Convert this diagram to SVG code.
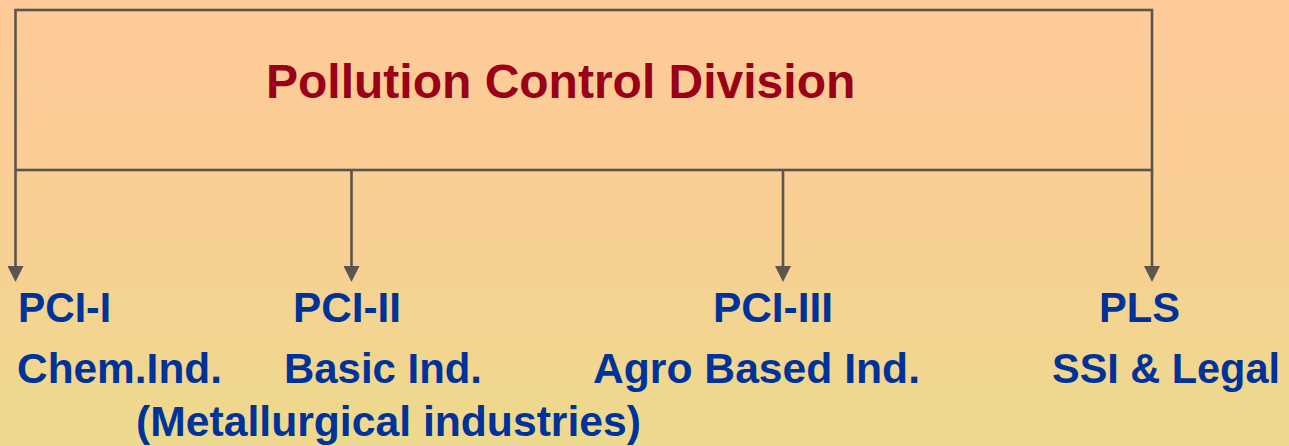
<svg xmlns="http://www.w3.org/2000/svg" width="1289" height="446" viewBox="0 0 1289 446">
  <defs>
    <linearGradient id="bg" x1="0" y1="0" x2="0" y2="1">
      <stop offset="0" stop-color="#FFCA99"/>
      <stop offset="0.5" stop-color="#F8CF93"/>
      <stop offset="1" stop-color="#EDDA8D"/>
    </linearGradient>
    <marker id="arrow" viewBox="0 0 16 16" refX="0" refY="8" markerWidth="16" markerHeight="16" markerUnits="userSpaceOnUse" orient="auto">
      <path d="M0,0 L16,8 L0,16 Z" fill="#5C554D"/>
    </marker>
    <style>
      .box { fill: none; stroke: #5C554D; stroke-width: 2.6; }
      .link { fill: none; stroke: #5C554D; stroke-width: 2.6; marker-end: url(#arrow); }
      .title { font-family: "Liberation Sans", Arial, sans-serif; font-weight: bold; font-size: 48px; fill: #9A0017; }
      .label { font-family: "Liberation Sans", Arial, sans-serif; font-weight: bold; font-size: 43px; fill: #003399; }
    </style>
  </defs>

  <rect width="1289" height="446" fill="url(#bg)"/>

  <!-- Division box -->
  <g id="division">
    <rect class="box" x="15.5" y="10" width="1136.5" height="160"/>
    <text class="title" x="266" y="98">Pollution Control Division</text>
  </g>

  <!-- Branches down to each cell -->
  <g id="connectors">
    <line class="link" x1="15.5" y1="170" x2="15.5" y2="266"/>
    <line class="link" x1="351.5" y1="170" x2="351.5" y2="266"/>
    <line class="link" x1="783" y1="170" x2="783" y2="266"/>
    <line class="link" x1="1152" y1="170" x2="1152" y2="266"/>
  </g>

  <g id="pci-1">
    <text class="label" x="18" y="322" textLength="93" lengthAdjust="spacingAndGlyphs">PCI-I</text>
    <text class="label" x="17" y="383" textLength="205" lengthAdjust="spacingAndGlyphs">Chem.Ind.</text>
  </g>

  <g id="pci-2">
    <text class="label" x="293" y="322" textLength="108" lengthAdjust="spacingAndGlyphs">PCI-II</text>
    <text class="label" x="284" y="383" textLength="198" lengthAdjust="spacingAndGlyphs">Basic Ind.</text>
    <text class="label" x="136" y="436" textLength="505" lengthAdjust="spacingAndGlyphs">(Metallurgical industries)</text>
  </g>

  <g id="pci-3">
    <text class="label" x="713" y="322" textLength="120" lengthAdjust="spacingAndGlyphs">PCI-III</text>
    <text class="label" x="593" y="383" textLength="327" lengthAdjust="spacingAndGlyphs">Agro Based Ind.</text>
  </g>

  <g id="pls">
    <text class="label" x="1099" y="322" textLength="81" lengthAdjust="spacingAndGlyphs">PLS</text>
    <text class="label" x="1052" y="383" textLength="228" lengthAdjust="spacingAndGlyphs">SSI &amp; Legal</text>
  </g>
</svg>
